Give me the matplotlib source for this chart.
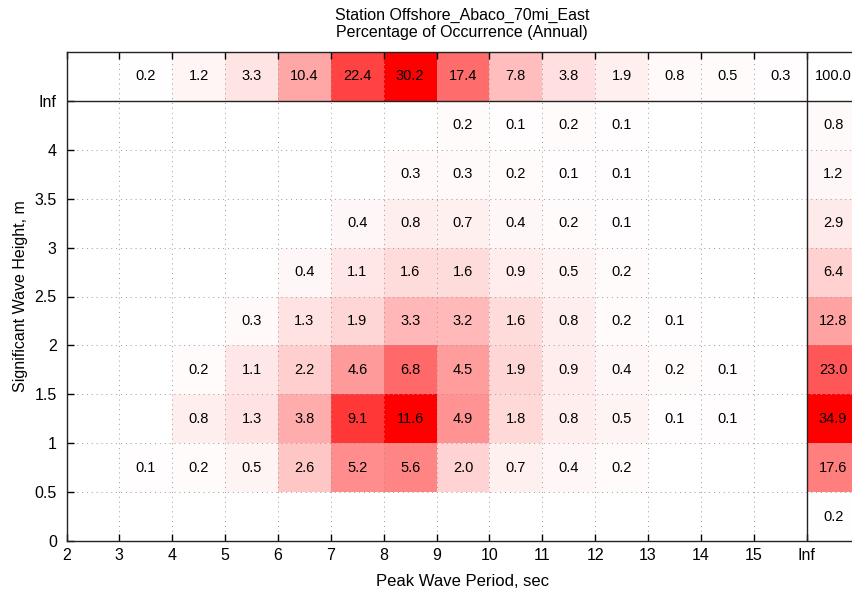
import numpy as np
import matplotlib
matplotlib.use("Agg")
import matplotlib.pyplot as plt
from matplotlib.colors import LinearSegmentedColormap

plt.rcParams['font.family'] = ['Liberation Sans', 'DejaVu Sans']

# Bin edges
period_edges = list(range(2, 17))          # 2..16, last column beyond is the "Inf" totals
height_edges = [0, 0.5, 1, 1.5, 2, 2.5, 3, 3.5, 4, 4.5]

# Percentage of occurrence per height bin (rows, from 0-0.5 m up to 4-4.5 m),
# per period bin (columns 2-3 ... 15-16 s); None = no occurrence
row_0_05 = [None] * 14
row_05_1 = [None, 0.1, 0.2, 0.5, 2.6, 5.2, 5.6, 2.0, 0.7, 0.4, 0.2, None, None, None]
row_1_15 = [None, None, 0.8, 1.3, 3.8, 9.1, 11.6, 4.9, 1.8, 0.8, 0.5, 0.1, 0.1, None]
row_15_2 = [None, None, 0.2, 1.1, 2.2, 4.6, 6.8, 4.5, 1.9, 0.9, 0.4, 0.2, 0.1, None]
row_2_25 = [None, None, None, 0.3, 1.3, 1.9, 3.3, 3.2, 1.6, 0.8, 0.2, 0.1, None, None]
row_25_3 = [None, None, None, None, 0.4, 1.1, 1.6, 1.6, 0.9, 0.5, 0.2, None, None, None]
row_3_35 = [None, None, None, None, None, 0.4, 0.8, 0.7, 0.4, 0.2, 0.1, None, None, None]
row_35_4 = [None, None, None, None, None, None, 0.3, 0.3, 0.2, 0.1, 0.1, None, None, None]
row_4_45 = [None, None, None, None, None, None, None, 0.2, 0.1, 0.2, 0.1, None, None, None]

# Marginal totals
period_totals = [None, 0.2, 1.2, 3.3, 10.4, 22.4, 30.2, 17.4, 7.8, 3.8, 1.9, 0.8, 0.5, 0.3]
height_totals = [0.2, 17.6, 34.9, 23.0, 12.8, 6.4, 2.9, 1.2, 0.8]
grand_total = 100.0

x_tick_labels = [str(v) for v in range(2, 16)] + ['Inf']
y_tick_labels = ['0', '0.5', '1', '1.5', '2', '2.5', '3', '3.5', '4', 'Inf']

rows = [row_0_05, row_05_1, row_1_15, row_15_2, row_2_25,
        row_25_3, row_3_35, row_35_4, row_4_45]


def to_array(vals):
    return np.array([np.nan if v is None else v for v in vals], dtype=float)


main = np.vstack([to_array(r) for r in rows])
top = to_array(period_totals)[None, :]
right = to_array(height_totals)[:, None]

cmap = LinearSegmentedColormap.from_list('wr', ['#ffffff', '#ff0000'])
cmap.set_bad('white')

fig = plt.figure(figsize=(8.52, 5.92), dpi=100)
ax = fig.add_axes([66.5 / 852, 51 / 592, 793 / 852, 489 / 592])

xe = np.array(period_edges, dtype=float)
ye = np.array(height_edges, dtype=float)
x_inf = xe[-1]
y_inf = ye[-1]

ax.pcolormesh(xe, ye, np.ma.masked_invalid(main), cmap=cmap,
              vmin=0, vmax=np.nanmax(main), shading='flat', zorder=0)
ax.pcolormesh(xe, [y_inf, y_inf + 0.5], np.ma.masked_invalid(top), cmap=cmap,
              vmin=0, vmax=np.nanmax(top), shading='flat', zorder=0)
ax.pcolormesh([x_inf, x_inf + 1], ye, np.ma.masked_invalid(right), cmap=cmap,
              vmin=0, vmax=np.nanmax(right), shading='flat', zorder=0)

txt_kw = dict(ha='center', va='center', fontsize=10.5, color='black', zorder=3)
xc = (xe[:-1] + xe[1:]) / 2
yc = (ye[:-1] + ye[1:]) / 2
for i in range(main.shape[0]):
    for j in range(main.shape[1]):
        if not np.isnan(main[i, j]):
            ax.text(xc[j], yc[i], f'{main[i, j]:.1f}', **txt_kw)
for j in range(top.shape[1]):
    if not np.isnan(top[0, j]):
        ax.text(xc[j], y_inf + 0.25, f'{top[0, j]:.1f}', **txt_kw)
for i in range(right.shape[0]):
    ax.text(x_inf + 0.5, yc[i], f'{right[i, 0]:.1f}', **txt_kw)
ax.text(x_inf + 0.5, y_inf + 0.25, f'{grand_total:.1f}', **txt_kw)

# Dotted grid
for xv in xe[1:-1]:
    ax.plot([xv, xv], [0, y_inf + 0.5], ls=(0, (1, 4)), color='#999999', lw=0.7, zorder=1)
for yv in ye[1:-1]:
    ax.plot([xe[0], x_inf + 1], [yv, yv], ls=(0, (1, 4)), color='#999999', lw=0.7, zorder=1)

# Separators of the marginal totals
ax.plot([x_inf, x_inf], [0, y_inf + 0.5], color='#222222', lw=1.0, zorder=2)
ax.plot([xe[0], x_inf + 1], [y_inf, y_inf], color='#222222', lw=1.0, zorder=2)

ax.set_xlim(xe[0], x_inf + 1)
ax.set_ylim(0, y_inf + 0.5)
ax.set_xticks(np.arange(2, 17))
ax.set_xticklabels(x_tick_labels)
ax.set_yticks(ye)
ax.set_yticklabels(y_tick_labels)
ax.tick_params(direction='in', length=5, width=1, labelsize=11.5, top=True)
ax.tick_params(axis='x', pad=5)
ax.tick_params(axis='y', pad=7)
for s in ax.spines.values():
    s.set_linewidth(1.0)
    s.set_color('#222222')

ax.set_xlabel('Peak Wave Period, sec', fontsize=12, labelpad=8)
ax.set_ylabel('Significant Wave Height, m', fontsize=11.5, labelpad=5)
fig.text(462 / 852, 1 - 15 / 592, 'Station Offshore_Abaco_70mi_East',
         ha='center', va='center', fontsize=11.5)
fig.text(462 / 852, 1 - 33 / 592, 'Percentage of Occurrence (Annual)',
         ha='center', va='center', fontsize=11.5)

fig.savefig('out.png', dpi=100)
